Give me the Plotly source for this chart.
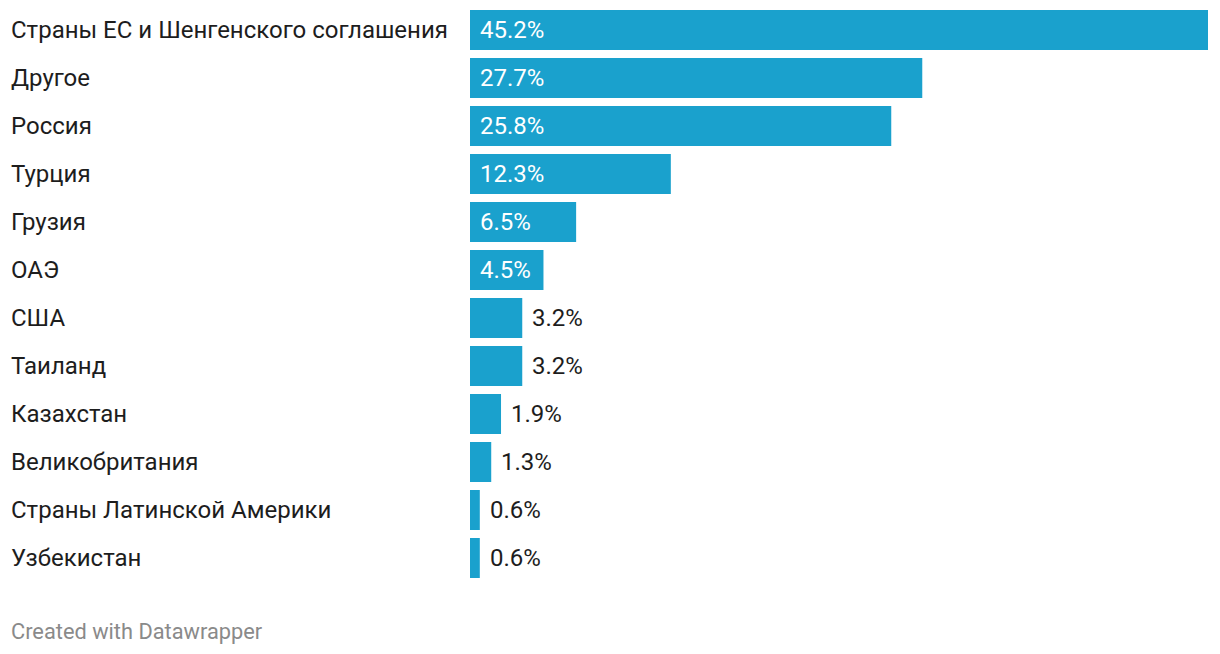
import plotly.graph_objects as go

categories = ["Страны ЕС и Шенгенского соглашения", "Другое", "Россия", "Турция", "Грузия",
              "ОАЭ", "США", "Таиланд", "Казахстан", "Великобритания",
              "Страны Латинской Америки", "Узбекистан"]
values = [45.2, 27.7, 25.8, 12.3, 6.5, 4.5, 3.2, 3.2, 1.9, 1.3, 0.6, 0.6]
value_labels = ["45.2%", "27.7%", "25.8%", "12.3%", "6.5%", "4.5%", "3.2%", "3.2%",
                "1.9%", "1.3%", "0.6%", "0.6%"]

W, H = 1220, 654
ML, MR, MT, MB = 470, 12, 6, 72
plot_w = W - ML - MR
plot_h = H - MT - MB
FONT = "Roboto"
BAR = "#1aa1cd"

fig = go.Figure(go.Bar(
    x=values, y=categories, orientation="h", marker=dict(color=BAR, line=dict(width=0)),
    width=40 / 48, hoverinfo="skip"))

annotations = []
for c, v, lab in zip(categories, values, value_labels):
    annotations.append(dict(x=(9 - ML) / plot_w, xref="paper", y=c, yref="y", text=c,
                            showarrow=False, xanchor="left", yanchor="middle",
                            font=dict(family=FONT, size=24, color="#1d1d1d")))
    inside = v >= 4.5
    annotations.append(dict(x=0 if inside else v, xref="x", y=c, yref="y", text=lab,
                            showarrow=False, xanchor="left", yanchor="middle", xshift=8,
                            font=dict(family=FONT, size=24, color="white" if inside else "#1d1d1d")))
annotations.append(dict(x=(9 - ML) / plot_w, xref="paper", y=(plot_h + MT - 631) / plot_h,
                        yref="paper", text="Created with Datawrapper", showarrow=False,
                        xanchor="left", yanchor="middle",
                        font=dict(family=FONT, size=21.8, color="#8a8a8a")))

fig.update_layout(
    width=W, height=H, margin=dict(l=ML, r=MR, t=MT, b=MB),
    paper_bgcolor="white", plot_bgcolor="white", showlegend=False,
    xaxis=dict(range=[0, 45.2], visible=False, fixedrange=True),
    yaxis=dict(range=[len(categories) - 0.5, -0.5], visible=False, fixedrange=True,
               categoryorder="array", categoryarray=categories),
    annotations=annotations,
)

fig.write_html("out.html", config={"displayModeBar": False})
